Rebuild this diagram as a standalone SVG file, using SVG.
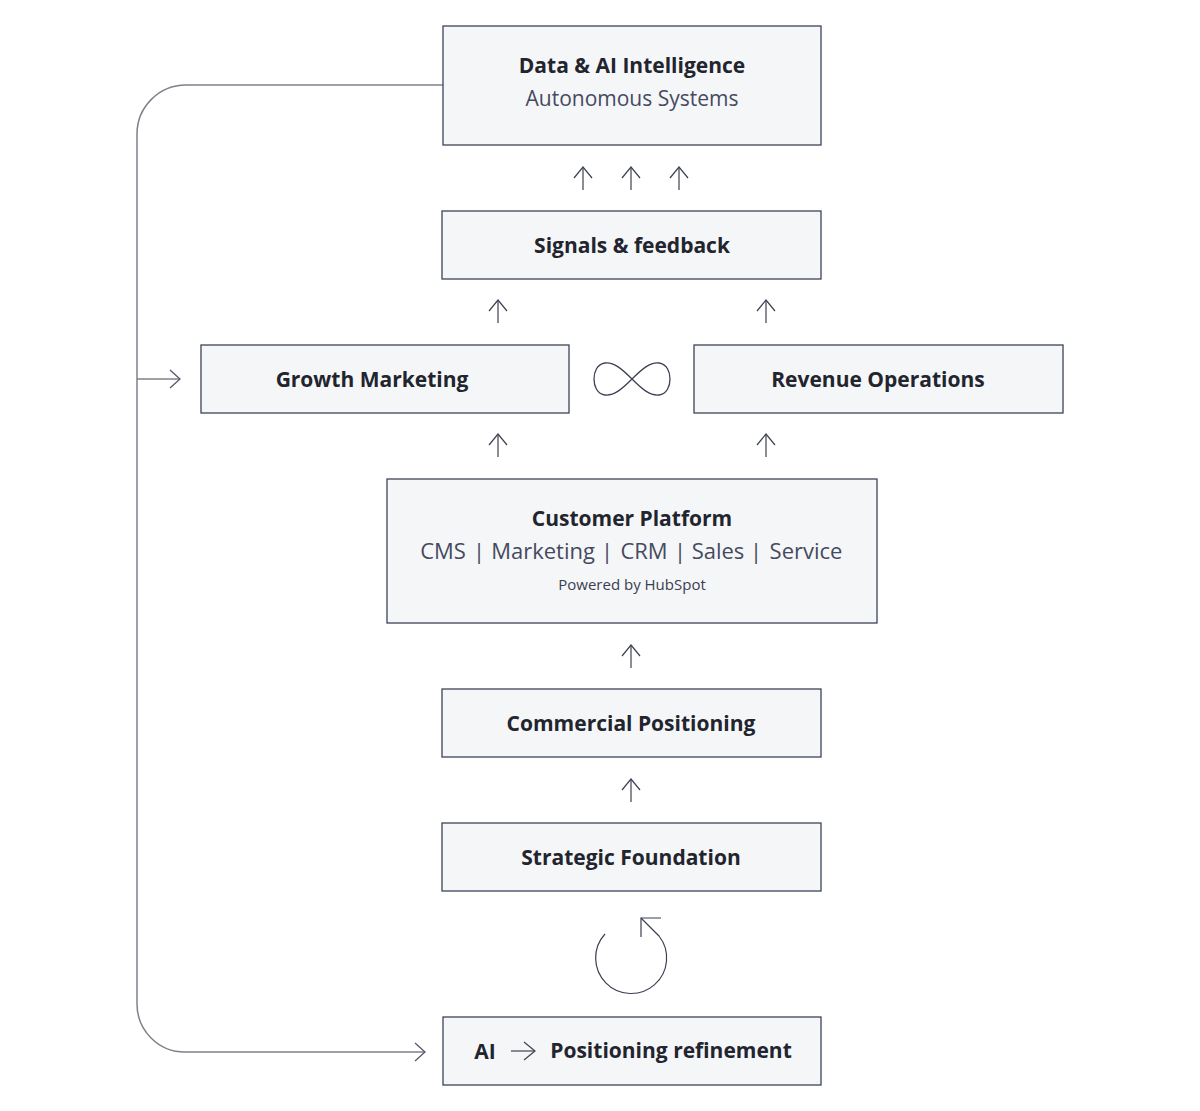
<svg xmlns="http://www.w3.org/2000/svg" width="1200" height="1111" viewBox="0 0 1200 1111">
<style>
.box{fill:#f5f6f8;stroke:#3d4258;stroke-width:1.3}
.t{font-family:"Open Sans","Noto Sans","Liberation Sans",sans-serif;fill:#22242e;text-anchor:middle}
.b{font-weight:700;font-size:21px}
.r{font-weight:400;font-size:21px;fill:#454a5f}
.r2{font-weight:400;font-size:22px;fill:#454a5f}
.s{font-weight:400;font-size:15px;fill:#3a3e4f}
.c{fill:none;stroke:#80808a;stroke-width:1.5}
.a{fill:none;stroke:#3d4050;stroke-width:1.2}
</style>
<defs>
<marker id="ah" viewBox="-13 -11 15 22" refX="0" refY="0" markerWidth="15" markerHeight="22" orient="auto" markerUnits="userSpaceOnUse">
<path d="M -11 -9 L 0 0 L -11 9" fill="none" stroke="#3d4050" stroke-width="1.2"/>
</marker>
<marker id="ahg" viewBox="-13 -11 15 22" refX="0" refY="0" markerWidth="15" markerHeight="22" orient="auto" markerUnits="userSpaceOnUse">
<path d="M -10 -9 L 0 0 L -10 9" fill="none" stroke="#55586a" stroke-width="1.3"/>
</marker>
</defs>
<rect width="1200" height="1111" fill="#ffffff"/>

<g id="connectors">
<path class="c" d="M 443 85 H 186 A 49 49 0 0 0 137 134 V 1004 A 48 48 0 0 0 185 1052 H 425" marker-end="url(#ahg)"/>
<path class="c" d="M 137 379 H 180" marker-end="url(#ahg)"/>
<path class="a" d="M 583 190 V 167" marker-end="url(#ah)"/>
<path class="a" d="M 631 190 V 167" marker-end="url(#ah)"/>
<path class="a" d="M 679 190 V 167" marker-end="url(#ah)"/>
<path class="a" d="M 498 323 V 300" marker-end="url(#ah)"/>
<path class="a" d="M 766 323 V 300" marker-end="url(#ah)"/>
<path class="a" d="M 498 457 V 434" marker-end="url(#ah)"/>
<path class="a" d="M 766 457 V 434" marker-end="url(#ah)"/>
<path class="a" d="M 631 668 V 645" marker-end="url(#ah)"/>
<path class="a" d="M 631 802 V 779" marker-end="url(#ah)"/>
<path class="a" d="M 605 934 A 35.5 35.5 0 1 0 659 936 L 641 918"/>
<path class="a" d="M 641 937 V 918 H 661"/>
</g>

<g id="data-ai">
<rect class="box" x="443" y="26" width="378" height="119"/>
<text class="t b" x="632" y="73">Data &amp; AI Intelligence</text>
<text class="t r" x="632" y="106">Autonomous Systems</text>
</g>

<g id="signals">
<rect class="box" x="442" y="211" width="379" height="68"/>
<text class="t b" x="632" y="253">Signals &amp; feedback</text>
</g>

<g id="growth">
<rect class="box" x="201" y="345" width="368" height="68"/>
<text class="t b" x="372" y="387">Growth Marketing</text>
</g>

<g id="infinity">
<path d="M 632 379 C 622 369 614 362 605 363 C 597 364 594 372 594 379 C 594 386 597 394 605 395 C 614 396 622 389 632 379 C 642 369 650 362 659 363 C 667 364 670 372 670 379 C 670 386 667 394 659 395 C 650 396 642 389 632 379 Z" fill="none" stroke="#3d4050" stroke-width="1.3"/>
</g>

<g id="revops">
<rect class="box" x="694" y="345" width="369" height="68"/>
<text class="t b" x="878" y="387">Revenue Operations</text>
</g>

<g id="customer-platform">
<rect class="box" x="387" y="479" width="490" height="144"/>
<text class="t b" x="632" y="526">Customer Platform</text>
<text class="t r2" x="443" y="559">CMS</text>
<text class="t r2" x="479" y="559">|</text>
<text class="t r2" x="543" y="559">Marketing</text>
<text class="t r2" x="607" y="559">|</text>
<text class="t r2" x="644" y="559">CRM</text>
<text class="t r2" x="680" y="559">|</text>
<text class="t r2" x="718" y="559">Sales</text>
<text class="t r2" x="756" y="559">|</text>
<text class="t r2" x="806" y="559">Service</text>
<text class="t s" x="632" y="590">Powered by HubSpot</text>
</g>

<g id="commercial">
<rect class="box" x="442" y="689" width="379" height="68"/>
<text class="t b" x="631" y="731">Commercial Positioning</text>
</g>

<g id="strategic">
<rect class="box" x="442" y="823" width="379" height="68"/>
<text class="t b" x="631" y="865">Strategic Foundation</text>
</g>

<g id="refinement">
<rect class="box" x="443" y="1017" width="378" height="68"/>
<text class="t b" x="485" y="1059">AI</text>
<path class="a" d="M 511 1051 H 535" marker-end="url(#ah)"/>
<text class="t b" x="671" y="1058">Positioning refinement</text>
</g>
</svg>
